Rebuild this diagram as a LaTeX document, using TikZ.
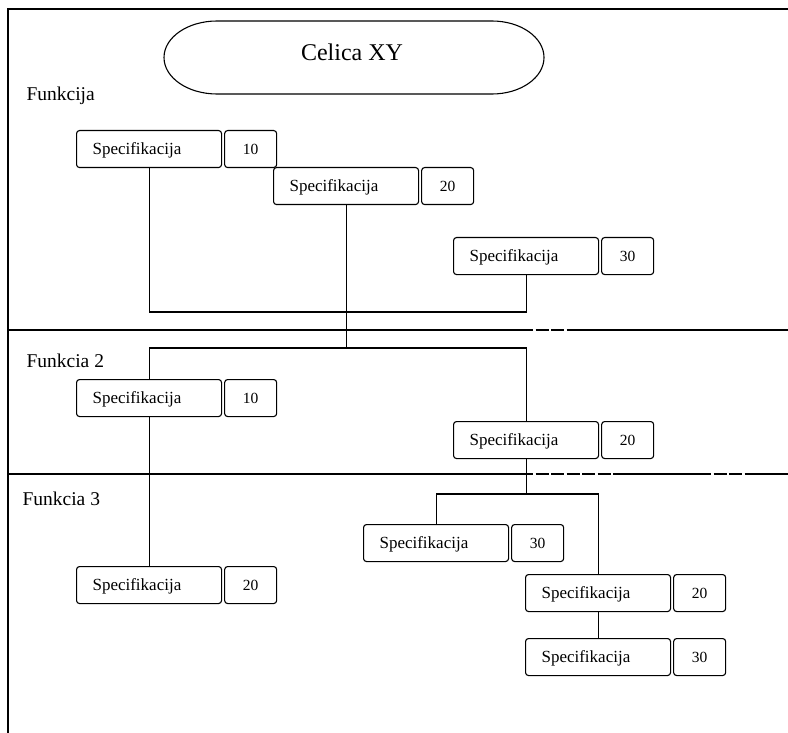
\documentclass[tikz,border=0pt]{standalone}
\usepackage{fontspec}
\setmainfont{Liberation Serif}
\begin{document}
\begin{tikzpicture}[x=1pt,y=-1pt,line width=1.1pt,
  spec/.style={draw,rounded corners=3pt,anchor=north west,minimum height=37pt,
    text width=113pt,inner xsep=16pt,inner ysep=0pt,align=left,
    text height=11pt,text depth=1pt,
    font=\fontsize{17}{18}\selectfont},
  num/.style={draw,rounded corners=3pt,anchor=west,minimum height=37pt,
    minimum width=52pt,inner sep=0pt,xshift=2pt,
    text height=11pt,text depth=1pt,
    font=\fontsize{15.5}{17}\selectfont},
  lbl/.style={anchor=base west,inner sep=0pt,font=\fontsize{19.5}{21}\selectfont},
  sep/.style={line width=1.1pt},
  sepdash/.style={line width=1.1pt,dash pattern=on 13pt off 2.5pt}]
\useasboundingbox (0,0) rectangle (788,733);

% outer frame: top edge and left edge
\draw (788,9) -- (8,9) -- (8,733);

% section dividers (partly dashed on the right)
\draw[sep] (8,330) -- (520,330);
\draw[sepdash] (520,330) -- (569,330);
\draw[sep] (569,330) -- (788,330);
\draw[sep] (8,474) -- (520,474);
\draw[sepdash] (520,474) -- (616,474);
\draw[sep] (616,474) -- (698,474);
\draw[sepdash] (698,474) -- (746,474);
\draw[sep] (746,474) -- (788,474);

% title capsule
\draw (217,21) -- (492,21) arc[start angle=90,end angle=-90,x radius=52,y radius=-36.5]
  -- (217,94) arc[start angle=270,end angle=90,x radius=53,y radius=-36.5] -- cycle;
\node[anchor=base,inner sep=0pt,font=\fontsize{24}{26}\selectfont] (title) at (352,61) {Celica XY};

% section labels
\node[lbl] (f1) at (26,101) {Funkcija};
\node[lbl] (f2) at (26,367) {Funkcia 2};
\node[lbl] (f3) at (22,505) {Funkcia 3};

% specification boxes
\node[spec] (s1) at (76,130) {Specifikacija};
\node[num] (n1) at (s1.east) {10};
\node[spec] (s2) at (273,167) {Specifikacija};
\node[num] (n2) at (s2.east) {20};
\node[spec] (s3) at (453,237) {Specifikacija};
\node[num] (n3) at (s3.east) {30};

\node[spec] (s4) at (76,379) {Specifikacija};
\node[num] (n4) at (s4.east) {10};
\node[spec] (s5) at (453,421) {Specifikacija};
\node[num] (n5) at (s5.east) {20};

\node[spec] (s6) at (76,566) {Specifikacija};
\node[num] (n6) at (s6.east) {20};
\node[spec] (s7) at (363,524) {Specifikacija};
\node[num] (n7) at (s7.east) {30};
\node[spec] (s8) at (525,574) {Specifikacija};
\node[num] (n8) at (s8.east) {20};
\node[spec] (s9) at (525,638) {Specifikacija};
\node[num] (n9) at (s9.east) {30};

% connectors
\coordinate (bus1) at (0,312);
\coordinate (bus2) at (0,348);
\coordinate (bus3) at (0,494);
\draw (s1.south) -- (s1.south |- bus1) -- (s3.south |- bus1) -- (s3.south);
\draw (s2.south) -- (s2.south |- bus2);
\draw (s4.north) -- (s4.north |- bus2) -- (s5.north |- bus2) -- (s5.north);
\draw (s4.south) -- (s6.north);
\draw (s5.south) -- (s5.south |- bus3);
\draw (s7.north) -- (s7.north |- bus3) -- (s8.north |- bus3) -- (s8.north);
\draw (s8.south) -- (s9.north);
\end{tikzpicture}
\end{document}
